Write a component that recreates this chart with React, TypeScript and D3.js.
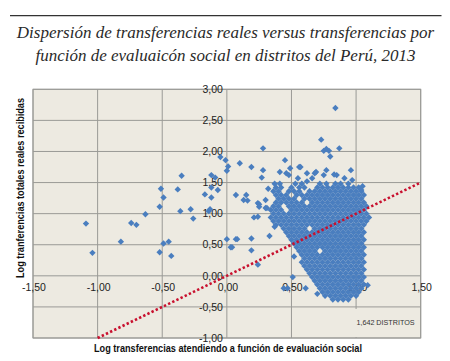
import React from "react";
import * as d3 from "d3";

const TITLE_LINES = [
  "Dispersión de transferencias reales versus transferencias por",
  "función de evaluaicón social en distritos del Perú, 2013",
];
const X_LABEL = "Log transferencias atendiendo  a función de evaluación social";
const Y_LABEL = "Log tranferencias  totales reales recibidas";
const NOTE = "1,642 DISTRITOS";

const X_TICKS = [-1.5, -1.0, -0.5, 0, 0.5, 1.0, 1.5];
const Y_TICKS = [-1.0, -0.5, 0, 0.5, 1.0, 1.5, 2.0, 2.5, 3.0];

// 45-degree reference line (x = y)
const REF_LINE = [
  [-1.0, -1.0],
  [1.5, 1.5],
];

// Scattered districts
const SCATTER: [number, number][] = [
  [-1.09, 0.84], [-1.04, 0.37], [-0.82, 0.55], [-0.74, 0.85], [-0.70, 0.82],
  [-0.63, 0.99], [-0.52, 1.11], [-0.51, 1.40], [-0.49, 1.26], [-0.52, 0.38],
  [-0.49, 0.52], [-0.45, 0.55], [-0.43, 0.32], [-0.38, 1.39], [-0.35, 1.61],
  [-0.36, 1.04], [-0.28, 1.07], [-0.26, 0.92], [-0.17, 1.31], [-0.12, 1.62],
  [-0.12, 1.42], [-0.12, 1.26], [-0.09, 1.58], [-0.07, 1.38], [-0.14, 1.04],
  [-0.13, 1.07], [0.0, 0.59], [0.03, 0.46], [0.0, 1.69], [-0.05, 1.91],
  [-0.01, 1.86], [0.01, 1.76], [0.10, 1.81], [0.07, 1.30], [0.19, 1.75],
  [0.28, 2.05], [0.27, 1.58], [0.28, 1.70], [0.45, 1.86], [0.57, 1.75],
  [0.73, 2.19], [0.84, 2.70], [0.75, 2.01], [0.77, 2.04], [0.79, 2.01],
  [0.80, 1.92], [0.87, 2.05], [0.77, 1.70], [0.83, 1.63], [0.85, 1.62],
  [0.96, 1.70], [0.15, 1.30], [0.13, 1.22], [0.16, 1.21], [0.21, 0.94],
  [0.24, 0.95], [0.25, 1.15], [0.31, 1.09], [0.41, 1.67], [0.46, 1.65],
  [0.49, 1.73], [0.48, 1.62], [0.56, 1.75], [0.55, 1.57], [0.62, 1.65],
  [0.66, 1.57], [0.68, 1.65], [0.24, 1.17], [0.25, 1.11], [0.30, 1.09],
  [0.44, -0.20], [0.47, -0.20], [0.61, -0.20], [0.51, -0.02], [0.24, 0.18],
  [0.19, 0.41], [0.19, 0.60], [0.04, 0.46], [0.07, 0.59], [0.08, 0.59],
  [0.33, 0.64], [0.37, 0.79], [0.52, 0.31], [1.09, -0.15], [0.70, -0.29],
  [1.10, 0.94], [1.05, 1.44], [1.04, 1.38], [0.69, 1.67], [0.75, 1.62],
  [0.91, 1.57], [0.97, 1.54], [0.32, 1.40], [0.30, 1.22], [0.62, 1.52],
];

// Dense cloud of districts
const CLOUD_ROWS: { y: number; xs: number[] }[] = [
  { y: 1.48, xs: [0.37, 0.41, 0.53, 0.58, 0.72, 0.77, 0.84, 0.88, 0.94] },
  { y: 1.42, xs: [0.38, 0.42, 0.50, 0.56, 0.60, 0.70, 0.74, 0.78, 0.82, 0.86, 0.90, 0.94, 0.98, 1.02] },
  { y: 1.36, xs: [0.36, 0.40, 0.48, 0.52, 0.56, 0.64, 0.68, 0.72, 0.76, 0.80, 0.84, 0.88, 0.92, 0.96, 1.00, 1.04] },
  { y: 1.30, xs: [0.38, 0.42, 0.46, 0.54, 0.58, 0.62, 0.66, 0.70, 0.74, 0.78, 0.82, 0.86, 0.90, 0.94, 0.98, 1.02, 1.06] },
  { y: 1.24, xs: [0.40, 0.44, 0.48, 0.52, 0.60, 0.64, 0.68, 0.72, 0.76, 0.80, 0.84, 0.88, 0.92, 0.96, 1.00, 1.04] },
  { y: 1.18, xs: [0.38, 0.42, 0.46, 0.50, 0.54, 0.58, 0.66, 0.70, 0.74, 0.78, 0.82, 0.86, 0.90, 0.94, 0.98, 1.02, 1.06] },
  { y: 1.12, xs: [0.36, 0.40, 0.48, 0.52, 0.56, 0.60, 0.64, 0.68, 0.72, 0.76, 0.80, 0.84, 0.88, 0.92, 0.96, 1.00, 1.04, 1.08] },
  { y: 1.06, xs: [0.34, 0.38, 0.42, 0.50, 0.54, 0.58, 0.62, 0.66, 0.70, 0.74, 0.78, 0.82, 0.86, 0.90, 0.94, 0.98, 1.02, 1.06] },
  { y: 1.00, xs: [0.36, 0.40, 0.44, 0.48, 0.52, 0.56, 0.60, 0.64, 0.68, 0.72, 0.76, 0.80, 0.84, 0.88, 0.92, 0.96, 1.00, 1.04, 1.08] },
  { y: 0.94, xs: [0.34, 0.38, 0.42, 0.46, 0.50, 0.54, 0.58, 0.62, 0.66, 0.70, 0.74, 0.78, 0.82, 0.86, 0.90, 0.94, 0.98, 1.02, 1.06] },
  { y: 0.88, xs: [0.36, 0.40, 0.44, 0.48, 0.52, 0.56, 0.60, 0.64, 0.68, 0.72, 0.76, 0.80, 0.84, 0.88, 0.92, 0.96, 1.00, 1.04, 1.08] },
  { y: 0.82, xs: [0.38, 0.42, 0.46, 0.50, 0.54, 0.58, 0.62, 0.66, 0.70, 0.74, 0.78, 0.82, 0.86, 0.90, 0.94, 0.98, 1.02, 1.06] },
  { y: 0.76, xs: [0.44, 0.48, 0.52, 0.56, 0.60, 0.68, 0.72, 0.76, 0.80, 0.84, 0.88, 0.92, 0.96, 1.00, 1.04] },
  { y: 0.70, xs: [0.46, 0.50, 0.54, 0.58, 0.62, 0.66, 0.70, 0.74, 0.78, 0.82, 0.86, 0.90, 0.94, 0.98, 1.02, 1.06] },
  { y: 0.64, xs: [0.48, 0.52, 0.56, 0.60, 0.64, 0.68, 0.72, 0.76, 0.80, 0.84, 0.88, 0.92, 0.96, 1.00, 1.04] },
  { y: 0.58, xs: [0.50, 0.54, 0.58, 0.62, 0.66, 0.70, 0.74, 0.78, 0.82, 0.86, 0.90, 0.94, 0.98, 1.02, 1.06] },
  { y: 0.52, xs: [0.52, 0.56, 0.60, 0.64, 0.68, 0.72, 0.76, 0.80, 0.84, 0.88, 0.92, 0.96, 1.00, 1.04] },
  { y: 0.46, xs: [0.54, 0.58, 0.62, 0.66, 0.70, 0.74, 0.78, 0.82, 0.86, 0.90, 0.94, 0.98, 1.02, 1.06] },
  { y: 0.40, xs: [0.56, 0.60, 0.64, 0.68, 0.76, 0.80, 0.84, 0.88, 0.92, 0.96, 1.00, 1.04] },
  { y: 0.34, xs: [0.58, 0.62, 0.66, 0.70, 0.74, 0.78, 0.82, 0.86, 0.90, 0.94, 0.98, 1.02, 1.06] },
  { y: 0.28, xs: [0.60, 0.64, 0.68, 0.72, 0.76, 0.80, 0.84, 0.88, 0.92, 0.96, 1.00, 1.04] },
  { y: 0.22, xs: [0.58, 0.62, 0.66, 0.70, 0.74, 0.78, 0.82, 0.86, 0.90, 0.94, 0.98, 1.02, 1.06] },
  { y: 0.16, xs: [0.60, 0.64, 0.68, 0.72, 0.76, 0.80, 0.84, 0.88, 0.92, 0.96, 1.00, 1.04] },
  { y: 0.10, xs: [0.62, 0.66, 0.70, 0.74, 0.78, 0.82, 0.86, 0.90, 0.94, 0.98, 1.02, 1.06] },
  { y: 0.04, xs: [0.64, 0.68, 0.72, 0.76, 0.80, 0.84, 0.88, 0.92, 0.96, 1.00, 1.04] },
  { y: -0.02, xs: [0.66, 0.70, 0.74, 0.78, 0.82, 0.86, 0.90, 0.94, 0.98, 1.02, 1.06] },
  { y: -0.08, xs: [0.68, 0.72, 0.76, 0.80, 0.84, 0.88, 0.92, 0.96, 1.00, 1.04] },
  { y: -0.14, xs: [0.70, 0.74, 0.78, 0.82, 0.86, 0.90, 0.94, 0.98, 1.02, 1.06] },
  { y: -0.20, xs: [0.72, 0.76, 0.80, 0.84, 0.88, 0.92, 0.96, 1.00, 1.04] },
  { y: -0.26, xs: [0.74, 0.78, 0.82, 0.86, 0.90, 0.94, 0.98, 1.02] },
  { y: -0.32, xs: [0.76, 0.80, 0.84, 0.88, 0.92, 0.96, 1.00] },
  { y: -0.38, xs: [0.82, 0.86, 0.90, 0.94] },
];

const W = 450;
const H = 361;
const PLOT = { left: 33, right: 420.7, top: 89.3, bottom: 338 };

const fmt = (v: number) => v.toFixed(2).replace(".", ",");

export default function App() {
  const x = d3.scaleLinear().domain([-1.5, 1.5]).range([PLOT.left, PLOT.right]);
  const y = d3.scaleLinear().domain([-1, 3]).range([PLOT.bottom, PLOT.top]);

  const points: [number, number][] = [
    ...CLOUD_ROWS.flatMap((r) => r.xs.map((xv) => [xv, r.y] as [number, number])),
    ...SCATTER,
  ];
  const diamond = d3.symbol().type(d3.symbolDiamond2).size(26)() as string;
  const line = d3.line<number[]>().x((d) => x(d[0])).y((d) => y(d[1]));

  const tickFont = "'Liberation Sans', Arial, sans-serif";

  return (
    <svg width={W} height={H} style={{ position: "absolute", left: 0, top: 0, background: "#fff" }}>
      <line x1={10} x2={441.5} y1={15.7} y2={15.7} stroke="#333" strokeWidth={1.2} />
      {TITLE_LINES.map((t, i) => (
        <text
          key={i}
          x={225.5}
          y={38 + i * 23.2}
          textAnchor="middle"
          fontFamily="'Liberation Serif', 'Times New Roman', serif"
          fontStyle="italic"
          fontSize={17}
          fill="#2a2a2a"
        >
          {t}
        </text>
      ))}

      <rect
        x={PLOT.left}
        y={PLOT.top}
        width={PLOT.right - PLOT.left}
        height={PLOT.bottom - PLOT.top}
        fill="#EDEAE1"
      />
      {X_TICKS.map((t) => (
        <line key={"gx" + t} x1={x(t)} x2={x(t)} y1={PLOT.top} y2={PLOT.bottom} stroke="#9a9a96" strokeWidth={1} />
      ))}
      {Y_TICKS.map((t) => (
        <line key={"gy" + t} x1={PLOT.left} x2={PLOT.right} y1={y(t)} y2={y(t)} stroke="#9a9a96" strokeWidth={1} />
      ))}
      <rect
        x={PLOT.left}
        y={PLOT.top}
        width={PLOT.right - PLOT.left}
        height={PLOT.bottom - PLOT.top}
        fill="none"
        stroke="#9a9a96"
        strokeWidth={1}
      />

      {/* note box */}
      <rect x={340} y={309} width={76} height={28} fill="#EDEAE1" />
      <text x={385.5} y={325} textAnchor="middle" fontFamily={tickFont} fontSize={7.2} fill="#333">
        {NOTE}
      </text>

      {/* y tick labels at x=0 */}
      {Y_TICKS.map((t) => (
        <text
          key={"ly" + t}
          x={x(0) - 4}
          y={y(t)}
          dy="0.35em"
          textAnchor="end"
          fontFamily={tickFont}
          fontSize={10.5}
          fill="#222"
        >
          {fmt(t)}
        </text>
      ))}
      {/* x tick labels below y=0 */}
      {X_TICKS.map((t) => (
        <text
          key={"lx" + t}
          x={x(t) + 1}
          y={y(0) + 15}
          textAnchor="middle"
          fontFamily={tickFont}
          fontSize={10.5}
          fill="#222"
        >
          {fmt(t)}
        </text>
      ))}

      {points.map((p, i) => (
        <path key={i} d={diamond} transform={`translate(${x(p[0])},${y(p[1])})`} fill="#4A7EBF" />
      ))}

      <path
        d={line(REF_LINE) as string}
        fill="none"
        stroke="#C8102E"
        strokeWidth={2.6}
        strokeDasharray="2.4,2.2"
      />

      <text
        x={228}
        y={352}
        textAnchor="middle"
        fontFamily={tickFont}
        fontWeight="bold"
        fontSize={10}
        fill="#111"
        textLength={268}
        lengthAdjust="spacingAndGlyphs"
      >
        {X_LABEL}
      </text>
      <text
        transform="translate(24,188) rotate(-90)"
        textAnchor="middle"
        fontFamily={tickFont}
        fontWeight="bold"
        fontSize={10}
        fill="#111"
        textLength={180}
        lengthAdjust="spacingAndGlyphs"
      >
        {Y_LABEL}
      </text>
    </svg>
  );
}
